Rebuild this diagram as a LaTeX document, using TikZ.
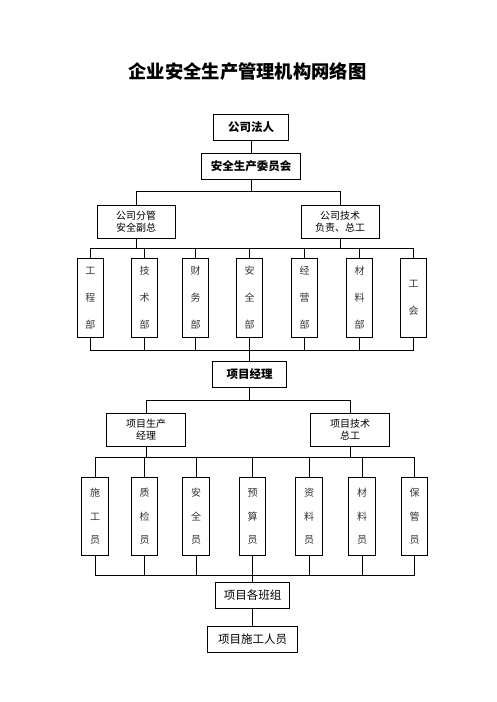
\documentclass[tikz,border=0pt]{standalone}
\usepackage{fontspec}
\setmainfont{Noto Sans CJK SC}
\usepackage{tikz}
\usetikzlibrary{positioning,calc}

\begin{document}
\begin{tikzpicture}[
    box/.style={rectangle, draw, line width=0.8pt, inner sep=0pt, outer sep=0pt, minimum height=26pt, align=center},
    head/.style={box, font=\fontsize{11.5}{13}\selectfont\bfseries},
    lead/.style={box, minimum width=78pt, minimum height=33pt, font=\fontsize{10}{12.5}\selectfont},
    dept/.style={box, minimum width=26pt, minimum height=79pt, font=\fontsize{10}{27}\selectfont, text=black!80},
    post/.style={box, minimum width=26.3pt, minimum height=78.4pt, font=\fontsize{10}{23.3}\selectfont, text=black!80},
    team/.style={box, font=\fontsize{11.5}{13}\selectfont},
    link/.style={line width=0.8pt}
]
\useasboundingbox (0pt,0pt) rectangle (496pt,-702pt);

% Title
\node[font=\fontsize{18.3}{22}\selectfont\bfseries] (title) at (247.5pt,-72pt) {企业安全生产管理机构网络图};

% Company level
\node[head, minimum width=75pt] (fr) at (251pt,-127pt) {公司法人};
\node[head, minimum width=99pt, below=13pt of fr] (wyh) {安全生产委员会};
\node[lead, below=26pt of wyh, xshift=-115pt] (fg) {公司分管\\安全副总};
\node[lead, right=126pt of fg] (js) {公司技术\\负责、总工};

% Departments
\node[dept, below=20.3pt of fg, xshift=-45.7pt] (d1) {工\\程\\部};
\node[dept, right=28.2pt of d1] (d2) {技\\术\\部};
\node[dept, right=25.2pt of d2] (d3) {财\\务\\部};
\node[dept, right=27.8pt of d3] (d4) {安\\全\\部};
\node[dept, right=29pt of d4] (d5) {经\\营\\部};
\node[dept, right=29pt of d5] (d6) {材\\料\\部};
\node[dept, right=28.2pt of d6] (d7) {工\\会};

% Project level
\node[head, minimum width=74pt, minimum height=25.6pt, below=24.4pt of d4] (xmjl) {项目经理};
\node[lead, minimum width=78.4pt, minimum height=32.7pt, below=26pt of xmjl, xshift=-103.5pt] (scjl) {项目生产\\经理};
\node[lead, minimum width=78.4pt, minimum height=32.7pt, right=125.6pt of scjl] (jszg) {项目技术\\总工};

% Staff
\node[post, below=31.3pt of scjl, xshift=-51pt] (p1) {施\\工\\员};
\node[post, right=23.2pt of p1] (p2) {质\\检\\员};
\node[post, right=25.2pt of p2] (p3) {安\\全\\员};
\node[post, right=30.2pt of p3] (p4) {预\\算\\员};
\node[post, right=30.2pt of p4] (p5) {资\\料\\员};
\node[post, right=26.7pt of p5] (p6) {材\\料\\员};
\node[post, right=26.2pt of p6] (p7) {保\\管\\员};

\node[team, minimum width=74pt, below=26.6pt of p4] (bzz) {项目各班组};
\node[team, minimum width=90.6pt, minimum height=26.3pt, below=17.7pt of bzz] (rys) {项目施工人员};

% Bus lines
\coordinate (b1) at ($(wyh.south)+(0,-12.7pt)$);
\coordinate (bt) at ($(fg.south)+(0,-10.5pt)$);
\coordinate (bb) at ($(d1.south)+(0,-12.7pt)$);
\coordinate (b2) at ($(xmjl.south)+(0,-13.4pt)$);
\coordinate (bt2) at ($(scjl.south)+(0,-11.3pt)$);
\coordinate (bb2) at ($(p1.south)+(0,-19.3pt)$);

% Connectors
\draw[link] (fr) -- (wyh);
\draw[link] (wyh.south) -- (b1);
\draw[link] (fg.north) |- (b1) -| (js.north);
\draw[link] (fg.south) -- (fg.south |- bt);
\draw[link] (js.south) -- (js.south |- bt);
\draw[link] (d1.north) -- (d1.north |- bt) -- (d7.north |- bt) -- (d7.north);
\draw[link] (d2.north) -- (d2.north |- bt) (d3.north) -- (d3.north |- bt)
    (d4.north) -- (d4.north |- bt) (d5.north) -- (d5.north |- bt) (d6.north) -- (d6.north |- bt);
\draw[link] (d1.south) -- (d1.south |- bb) -- (d7.south |- bb) -- (d7.south);
\draw[link] (d2.south) -- (d2.south |- bb) (d3.south) -- (d3.south |- bb)
    (d4.south) -- (d4.south |- bb) (d5.south) -- (d5.south |- bb) (d6.south) -- (d6.south |- bb);
\draw[link] (xmjl.north |- bb) -- (xmjl.north);
\draw[link] (xmjl.south) -- (b2);
\draw[link] (scjl.north) |- (b2) -| (jszg.north);
\draw[link] (scjl.south) -- (scjl.south |- bt2);
\draw[link] (jszg.south) -- (jszg.south |- bt2);
\draw[link] (p1.north) -- (p1.north |- bt2) -- (p7.north |- bt2) -- (p7.north);
\draw[link] (p2.north) -- (p2.north |- bt2) (p3.north) -- (p3.north |- bt2)
    (p4.north) -- (p4.north |- bt2) (p5.north) -- (p5.north |- bt2) (p6.north) -- (p6.north |- bt2);
\draw[link] (p1.south) -- (p1.south |- bb2) -- (p7.south |- bb2) -- (p7.south);
\draw[link] (p2.south) -- (p2.south |- bb2) (p3.south) -- (p3.south |- bb2)
    (p4.south) -- (p4.south |- bb2) (p5.south) -- (p5.south |- bb2) (p6.south) -- (p6.south |- bb2);
\draw[link] (bzz.north |- bb2) -- (bzz.north);
\draw[link] (bzz) -- (rys);

\end{tikzpicture}
\end{document}
